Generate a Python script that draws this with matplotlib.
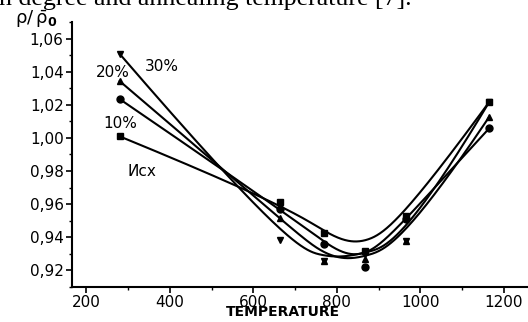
import numpy as np
import matplotlib
matplotlib.use('Agg')
import matplotlib.pyplot as plt
from matplotlib.ticker import MultipleLocator, FuncFormatter

# data
temperature = [280, 665, 770, 868, 965, 1165]
rho_initial = [1.001, 0.961, 0.9424, 0.9315, 0.953, 1.022]   # Исх, squares
rho_10 = [1.0236, 0.957, 0.936, 0.922, 0.951, 1.006]         # 10%, circles
rho_20 = [1.0345, 0.9515, 0.9255, 0.9267, 0.9375, 1.013]     # 20%, up triangles
rho_30 = [1.051, 0.938, 0.9255, 0.930, 0.9375, 1.022]        # 30%, down triangles
series_labels = ['Исх', '10%', '20%', '30%']
series_markers = ['s', 'o', '^', 'v']


def bspline(xs, ys, n=300):
	# clamped cubic B-spline with the data points as control points
	P = np.column_stack([xs, ys]).astype(float)
	k = 3
	m = len(P)
	inner = np.arange(1, m - k)
	knots = np.concatenate([np.zeros(k + 1), inner, np.full(k + 1, m - k)]).astype(float)
	ts = np.linspace(0, m - k, n)
	out = []
	for t in ts:
		# de Boor
		s = min(np.searchsorted(knots, t, side='right') - 1, m - 1)
		d = [P[j + s - k].copy() for j in range(k + 1)]
		for r in range(1, k + 1):
			for j in range(k, r - 1, -1):
				i = j + s - k
				den = knots[i + k + 1 - r] - knots[i]
				a = 0.0 if den == 0 else (t - knots[i]) / den
				d[j] = (1 - a) * d[j - 1] + a * d[j]
		out.append(d[k])
	out = np.array(out)
	return out[:, 0], out[:, 1]


fig = plt.figure(figsize=(5.28, 3.22), dpi=100)
ax = fig.add_axes([72 / 528, 35 / 322, 1 - 72 / 528 + 0.01, 265 / 322])

for ys, mk in zip([rho_initial, rho_10, rho_20, rho_30], series_markers):
	cx, cy = bspline(temperature, ys)
	ax.plot(cx, cy, color='black', lw=1.5)
	ax.plot(temperature, ys, ls='none', marker=mk, color='black', ms=5)

ax.set_xlim(166, 1270)
ax.set_ylim(0.9097, 1.0703)
ax.spines['top'].set_visible(False)
ax.spines['right'].set_visible(False)
ax.spines['left'].set_linewidth(1.5)
ax.spines['bottom'].set_linewidth(1.5)

ax.xaxis.set_major_locator(MultipleLocator(200))
ax.xaxis.set_minor_locator(MultipleLocator(100))
ax.yaxis.set_major_locator(MultipleLocator(0.02))
ax.yaxis.set_minor_locator(MultipleLocator(0.01))
ax.yaxis.set_major_formatter(FuncFormatter(lambda v, p: '{:.2f}'.format(v).replace('.', ',')))
ax.tick_params(which='major', direction='out', length=4, width=1.2, labelsize=11, pad=2)
ax.tick_params(which='minor', direction='out', length=2.5, width=1)
for lab in ax.get_xticklabels() + ax.get_yticklabels():
	lab.set_family('DejaVu Sans')

# curve labels
ax.text(341, 1.0435, '30%', fontsize=11, ha='left', va='center')
ax.text(222, 1.0395, '20%', fontsize=11, ha='left', va='center')
ax.text(240, 1.0088, '10%', fontsize=11, ha='left', va='center')
ax.text(300, 0.9795, 'Исх', fontsize=11, ha='left', va='center')

# axis titles
fig.text(283 / 528, 1 - 312 / 322, 'TEMPERATURE', fontsize=10, fontweight='bold',
	ha='center', va='center')
fig.text(15 / 528, 1 - 19 / 322, r'$\mathrm{\rho/\,\bar{\rho}}_{\mathbf{0}}$', fontsize=13,
	ha='left', va='center')

# caption line cut off at the top
fig.text(-0.002, 1 - 5 / 322, 'n degree and annealing temperature [7].',
	family='Liberation Serif', fontsize=18.6, ha='left', va='baseline')

fig.savefig('out.png', dpi=100)
